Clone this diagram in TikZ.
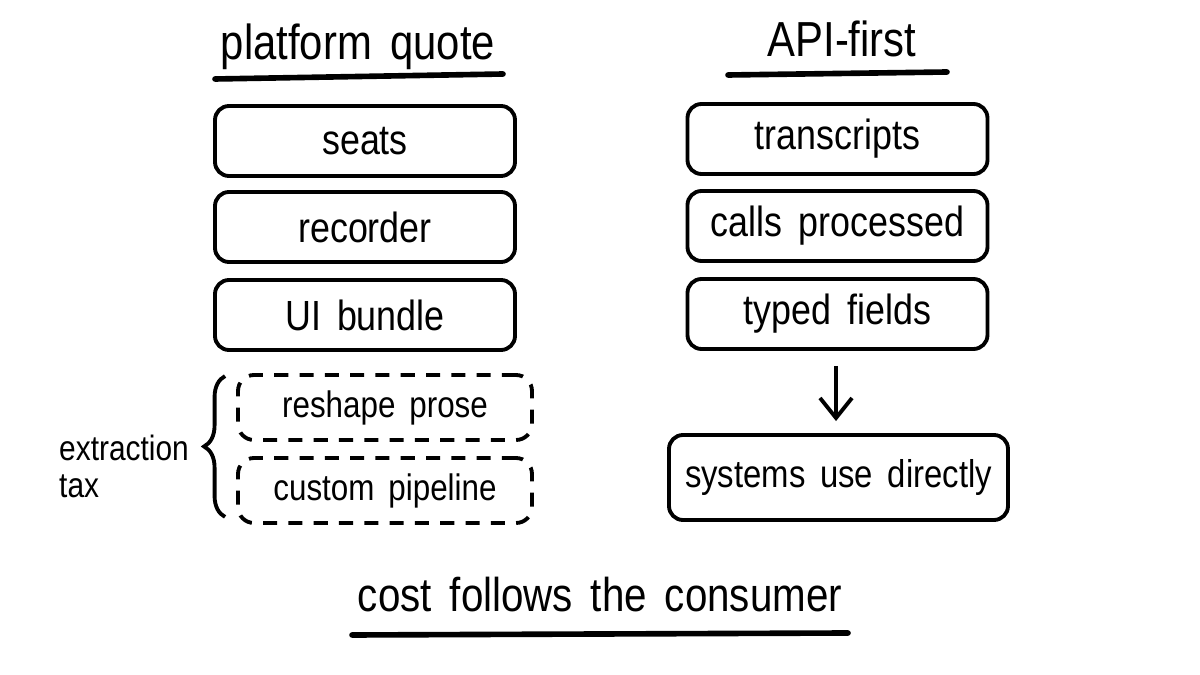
\documentclass[tikz,border=0pt]{standalone}
\usepackage{fontspec}
\setmainfont{Liberation Sans}[FakeStretch=0.85, WordSpace=1.6]
\usepackage{tikz}
\usetikzlibrary{arrows.meta,positioning,decorations.pathreplacing}

\begin{document}
\begin{tikzpicture}[
    line width=1.1pt,
    itembox/.style={draw, rounded corners=0.14cm, minimum width=3cm, minimum height=0.7cm, inner sep=2pt, font=\fontsize{12}{14}\selectfont},
    taxbox/.style={draw, dashed, dash pattern=on 4pt off 3.2pt, rounded corners=0.16cm, minimum width=2.94cm, minimum height=0.65cm, font=\fontsize{10.5}{12}\selectfont},
    heading/.style={anchor=base, font=\fontsize{14}{16}\selectfont},
    uline/.style={line width=1.6pt, line cap=round}
  ]
    \fill[white] (0,0) rectangle (12,6.75);
    \useasboundingbox (0,0) rectangle (12,6.75);

    % headings
    \node[heading] (quote) at (3.58,6.15) {platform quote};
    \node[heading] (api) at (8.42,6.18) {API-first};
    \draw[uline] (2.15,5.96) -- (5.03,6.01);
    \draw[uline] (7.28,6.00) -- (9.47,6.03);

    % platform quote column
    \foreach \name/\txt/\y in {seats/seats/5.34,rec/recorder/4.48,ui/UI bundle/3.60} {
      \node[itembox] (\name) at (3.65,\y) {\txt};
    }
    \node[taxbox] (reshape) at (3.85,2.675) {reshape prose};
    \node[taxbox] (custom) at (3.85,1.845) {custom pipeline};
    \draw[decorate, decoration={brace, amplitude=0.21cm}]
      ([xshift=-0.11cm,yshift=0.08cm]custom.south west) -- ([xshift=-0.11cm,yshift=-0.03cm]reshape.north west);
    \node[align=left, font=\fontsize{10}{10.5}\selectfont] (tax) at (1.24,2.09) {extraction\\tax};

    % API-first column
    \foreach \name/\txt/\y in {trans/transcripts/5.36,calls/calls processed/4.49,typed/typed fields/3.61} {
      \node[itembox] (\name) at (8.375,\y) {\txt};
    }
    \node[itembox, minimum width=3.39cm, minimum height=0.85cm, font=\fontsize{11}{14}\selectfont] (sys) at (8.385,1.975) {systems use directly};
    \draw[-{Straight Barb[length=0.2cm,width=0.32cm]}, shorten <=0.15cm, shorten >=0.12cm]
      (typed.south -| 8.36,0) -- (sys.north -| 8.36,0);

    % bottom line
    \node[heading, font=\fontsize{13.5}{16}\selectfont] (cost) at (6.0,0.63) {cost follows the consumer};
    \draw[uline] (3.52,0.40) -- (8.48,0.42);
  \end{tikzpicture}
\end{document}
